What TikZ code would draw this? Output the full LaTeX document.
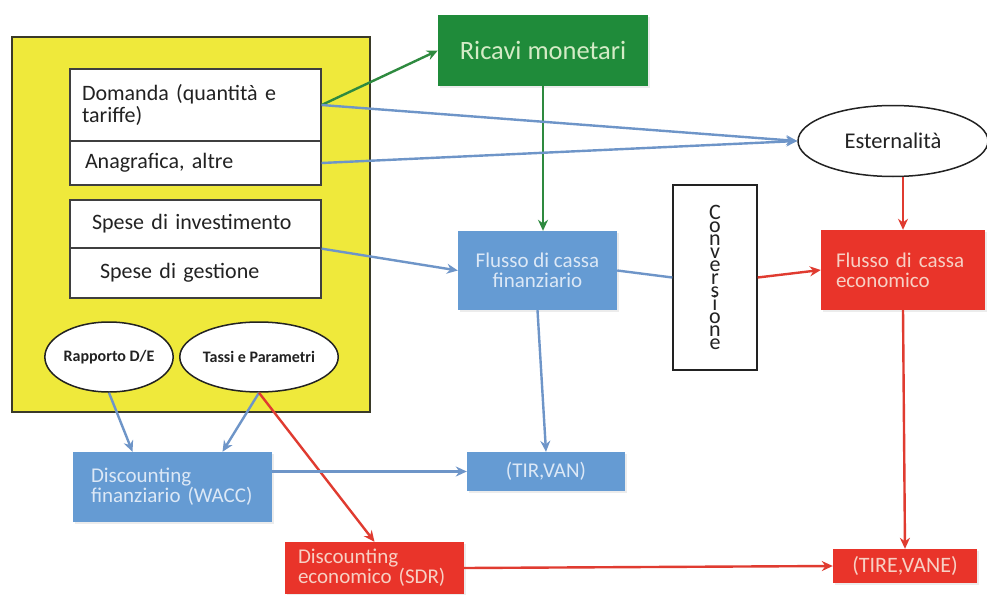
\documentclass[tikz,border=0pt]{standalone}
\usepackage{fontspec}
\setmainfont{Carlito}
\usepackage{tikz}
\usetikzlibrary{arrows.meta,shapes.geometric,shadows}
\definecolor{Ink}{HTML}{222222}
\definecolor{PanelYellow}{HTML}{EFE93B}
\definecolor{PanelEdge}{HTML}{3A3A28}
\definecolor{CellEdge}{HTML}{3F3F3F}
\definecolor{CashGreen}{HTML}{1F8B3A}
\definecolor{GreenLine}{HTML}{2E8A3F}
\definecolor{GreenText}{HTML}{D4EBC6}
\definecolor{FinBlue}{HTML}{659BD3}
\definecolor{BlueLine}{HTML}{6E95C8}
\definecolor{BlueText}{HTML}{DCE8F6}
\definecolor{EcoRed}{HTML}{E9342A}
\definecolor{RedLine}{HTML}{E03B30}
\definecolor{RedText}{HTML}{F7D0C4}

\begin{document}
\begin{tikzpicture}[x=1pt,y=-1pt,>={Stealth[length=11pt,width=10pt]},
  panel/.style={draw=PanelEdge,fill=PanelYellow,line width=1.5pt},
  cell/.style 2 args={draw=CellEdge,fill=white,line width=1.3pt,minimum width=251pt,
    align=left,inner xsep=#1,text width=#2,text=Ink,font=\fontsize{22}{22}\selectfont},
  oval/.style={ellipse,draw=Ink,fill=white,line width=1.5pt,inner sep=0pt,text=Ink},
  tile/.style={rectangle,inner sep=0pt,drop shadow={opacity=.15,shadow xshift=2pt,shadow yshift=-2pt}},
  fin/.style={tile,fill=FinBlue,text=BlueText,font=\fontsize{21}{20}\selectfont},
  eco/.style={tile,fill=EcoRed,text=RedText,font=\fontsize{21}{20}\selectfont},
  bline/.style={draw=BlueLine,line width=2.4pt},
  rline/.style={draw=RedLine,line width=2.4pt},
  gline/.style={draw=GreenLine,line width=2.4pt}]
  \path[use as bounding box,fill=white] (0,0) rectangle (987,594);
  \node[panel,minimum width=358pt,minimum height=375pt] (panel) at (191,224.5) {};
  \node[cell={12pt}{227pt},minimum height=72pt] (dom) at (195.5,105) {Domanda (quantità e\\tariffe)};
  \node[cell={15pt}{221pt},minimum height=44pt] (ana) at (195.5,163) {Anagrafica, altre};
  \node[cell={22pt}{207pt},minimum height=48pt] (inv) at (195.5,224) {Spese di investimento};
  \node[cell={30pt}{191pt},minimum height=50pt] (ges) at (195.5,273) {Spese di gestione};
  \node[oval,minimum width=128pt,minimum height=70pt,font=\bfseries\fontsize{16}{16}\selectfont] (rde) at (109,357) {Rapporto D/E};
  \node[oval,minimum width=154pt,minimum height=70pt,font=\bfseries\fontsize{16}{16}\selectfont] (tas) at (259,357) {Tassi e Parametri};
  \node[tile,fill=CashGreen,text=GreenText,font=\fontsize{26.5}{26}\selectfont,minimum width=210pt,minimum height=71pt] (ric) at (543,50.5) {Ricavi monetari};
  \node[oval,minimum width=190pt,minimum height=71pt,font=\fontsize{22.5}{22}\selectfont] (est) at (893,141) {Esternalità};
  \node[fin,align=center,minimum width=159pt,minimum height=79pt] (ffin) at (537.5,270.5) {Flusso di cassa\\finanziario};
  \node[draw=Ink,fill=white,line width=1.3pt,minimum width=84pt,minimum height=185pt,align=center,text=Ink,
    font={\fontsize{22}{13}\selectfont\lineskiplimit=-\maxdimen}] (conv) at (715,277.5) {C\\o\\n\\v\\e\\r\\s\\i\\o\\n\\e};
  \node[eco,align=left,inner xsep=15pt,text width=134pt,minimum height=80pt] (feco) at (903,270) {Flusso di cassa\\economico};
  \node[fin,align=left,inner xsep=18pt,text width=163pt,minimum height=70pt] (wacc) at (172.5,487) {Discounting\\finanziario (WACC)};
  \node[fin,minimum width=158pt,minimum height=39pt] (tir) at (546,471.5) {(TIR,VAN)};
  \node[eco,align=left,inner xsep=13pt,text width=153pt,minimum height=52pt] (sdr) at (374.5,568) {Discounting\\economico (SDR)};
  \node[eco,font=\fontsize{22}{22}\selectfont,minimum width=144pt,minimum height=34pt] (tire) at (905,566) {(TIRE,VANE)};
  \draw[gline,->] (dom.east) -- (ric.west);
  \draw[gline,->] (ric.south) -- (ric.south |- ffin.north);
  \draw[bline,->] (dom.east) -- (est.west);
  \draw[bline,->] (ana.east) -- (est.west);
  \draw[bline,->] (inv.south east) -- (ffin.west);
  \draw[bline] (ffin.east) -- (conv.west);
  \draw[rline,->] (conv.east) -- (feco.west);
  \draw[rline,->] (est.south -| feco.north) -- (feco.north);
  \draw[bline,->] (ffin.south) -- (tir.north);
  \draw[rline,->] (feco.south) -- (tire.north);
  \draw[bline,->] (rde.south) -- ([xshift=-40pt]wacc.north);
  \draw[bline,->] (tas.south) -- ([xshift=50pt]wacc.north);
  \draw[rline,->] (tas.south) -- (sdr.north);
  \draw[bline,->] (wacc.east |- tir.west) -- (tir.west);
  \draw[rline,->] (sdr.east) -- (tire.west);
\end{tikzpicture}
\end{document}
